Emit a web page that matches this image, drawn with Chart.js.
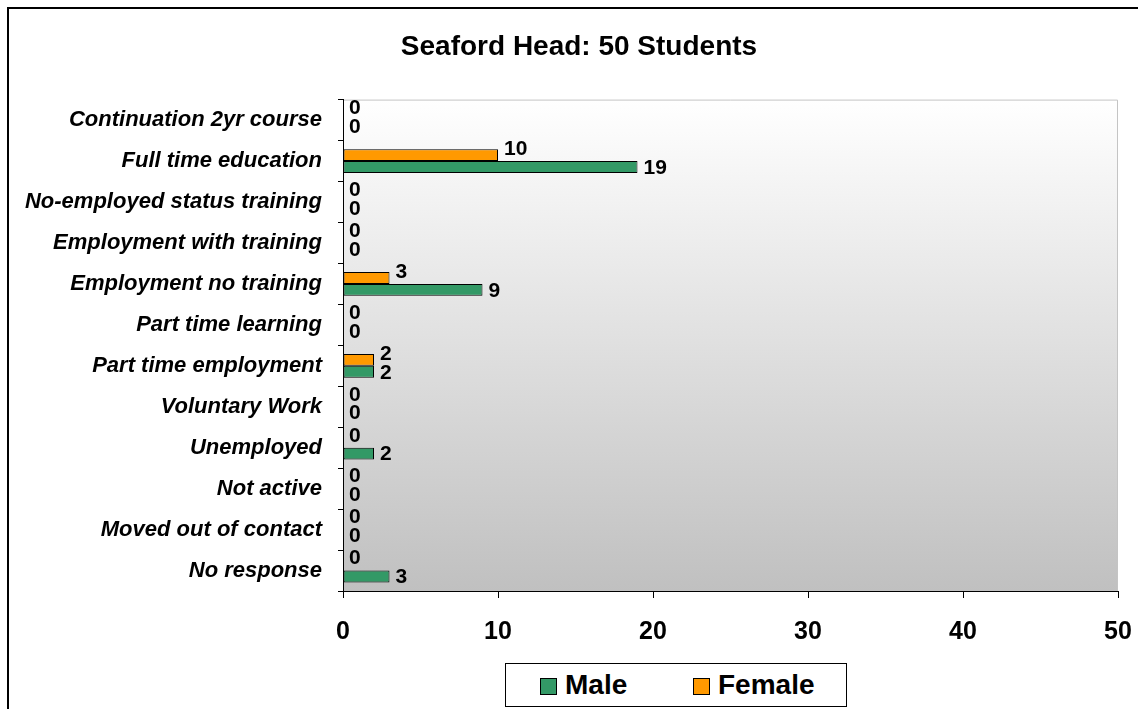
<!DOCTYPE html>
<html>
<head>
<meta charset="utf-8">
<title>Seaford Head: 50 Students</title>
<script src="https://cdn.jsdelivr.net/npm/chart.js@4/dist/chart.umd.min.js"></script>
<style>
  html, body { margin: 0; padding: 0; background: #fff; overflow: hidden; }
  body { width: 1138px; height: 709px; position: relative; font-family: "Liberation Sans", Arial, sans-serif; }
  #frame { position: absolute; left: 7px; top: 7px; width: 1200px; height: 800px; border: 2px solid #000; box-sizing: border-box; }
  #wrap { position: absolute; left: 0; top: 0; width: 1138px; height: 709px; }
  #legend {
    position: absolute; left: 505px; top: 663px; width: 342px; height: 44px;
    border: 1px solid #000; box-sizing: border-box; background: #fff;
    font: bold 28px "Liberation Sans", Arial, sans-serif; color: #000;
  }
  #legend .item { position: absolute; top: 0; height: 42px; line-height: 42px; white-space: nowrap; }
  #legend .swatch { display: inline-block; width: 17px; height: 17px; border: 1px solid #000; box-sizing: border-box; vertical-align: -1px; margin-right: 8px; }
</style>
</head>
<body>
<div id="frame"></div>
<div id="wrap"><canvas id="chart" width="1138" height="709"></canvas></div>
<div id="legend"></div>
<script>
"use strict";

const TITLE = "Seaford Head: 50 Students";

const categories = [
  "Continuation 2yr course",
  "Full time education",
  "No-employed status training",
  "Employment with training",
  "Employment no training",
  "Part time learning",
  "Part time employment",
  "Voluntary Work",
  "Unemployed",
  "Not active",
  "Moved out of contact",
  "No response",
];

const maleValues = [0, 19, 0, 0, 9, 0, 2, 0, 2, 0, 0, 3];
const femaleValues = [0, 10, 0, 0, 3, 0, 2, 0, 0, 0, 0, 0];

const xTicks = [0, 10, 20, 30, 40, 50];

const FONT = "'Liberation Sans', Arial, sans-serif";
const GREEN = "#339966";
const ORANGE = "#FF9900";

// plot area background: white at top fading to grey at the bottom, light frame top/right
const plotBg = {
  id: "plotBg",
  beforeDraw(chart) {
    const { ctx, chartArea: a } = chart;
    const g = ctx.createLinearGradient(0, a.top, 0, a.bottom);
    g.addColorStop(0, "#ffffff");
    g.addColorStop(1, "#c0c0c0");
    ctx.save();
    ctx.fillStyle = g;
    ctx.fillRect(a.left, a.top, a.right - a.left, a.bottom - a.top);
    ctx.strokeStyle = "#c4c4c4";
    ctx.lineWidth = 1;
    ctx.beginPath();
    ctx.moveTo(a.left, a.top + 0.5);
    ctx.lineTo(a.right - 0.5, a.top + 0.5);
    ctx.lineTo(a.right - 0.5, a.bottom);
    ctx.stroke();
    ctx.restore();
  },
};

// value labels to the right of each bar end
const valueLabels = {
  id: "valueLabels",
  afterDatasetsDraw(chart) {
    const { ctx } = chart;
    ctx.save();
    ctx.font = "bold 21px " + FONT;
    ctx.fillStyle = "#000";
    ctx.textAlign = "left";
    ctx.textBaseline = "middle";
    chart.data.datasets.forEach((ds, di) => {
      const dy = ds.label === "Female" ? -6 : 1;
      chart.getDatasetMeta(di).data.forEach((bar, i) => {
        ctx.fillText(String(ds.data[i]), bar.x + 6, bar.y + dy);
      });
    });
    ctx.restore();
  },
};

// eslint-disable-next-line no-undef
const chart = new Chart(document.getElementById("chart"), {
  type: "bar",
  data: {
    labels: categories,
    datasets: [
      { label: "Female", data: femaleValues, backgroundColor: ORANGE },
      { label: "Male", data: maleValues, backgroundColor: GREEN },
    ],
  },
  options: {
    indexAxis: "y",
    responsive: false,
    animation: false,
    layout: { padding: { left: 20, right: 0, top: 0, bottom: 0 } },
    datasets: {
      bar: {
        borderColor: "#000",
        borderWidth: 1,
        borderSkipped: false,
        categoryPercentage: 0.58,
        barPercentage: 1,
      },
    },
    plugins: {
      legend: { display: false },
      tooltip: { enabled: false },
      title: {
        display: true,
        text: TITLE,
        color: "#000",
        font: { family: FONT, size: 28, weight: "bold" },
        padding: { top: 30, bottom: 36 },
      },
    },
    scales: {
      x: {
        min: 0,
        max: 50,
        afterFit: (s) => { s.height = 118; s.paddingLeft = 0; s.paddingRight = 20; },
        afterBuildTicks: (s) => { s.ticks = xTicks.map((v) => ({ value: v })); },
        border: { color: "#000", width: 1 },
        grid: { drawOnChartArea: false, drawTicks: true, tickLength: 7, color: "#000" },
        ticks: { color: "#000", padding: 19, maxRotation: 0, font: { family: FONT, size: 25, weight: "bold" } },
      },
      y: {
        afterFit: (s) => { s.width = 323; },
        border: { color: "#000", width: 1 },
        grid: { offset: true, drawOnChartArea: false, drawTicks: true, tickLength: 5, color: "#000" },
        ticks: { color: "#000", padding: 16, autoSkip: false, font: { family: FONT, size: 22, weight: "bold", style: "italic" } },
      },
    },
  },
  plugins: [plotBg, valueLabels],
});

// legend, Male first as in the original
const legendEl = document.getElementById("legend");
const legendItems = [
  { label: "Male", color: GREEN, left: 34 },
  { label: "Female", color: ORANGE, left: 187 },
];
legendItems.forEach((it) => {
  const d = document.createElement("div");
  d.className = "item";
  d.style.left = it.left + "px";
  const sw = document.createElement("span");
  sw.className = "swatch";
  sw.style.background = it.color;
  d.appendChild(sw);
  d.appendChild(document.createTextNode(it.label));
  legendEl.appendChild(d);
});
</script>
</body>
</html>
